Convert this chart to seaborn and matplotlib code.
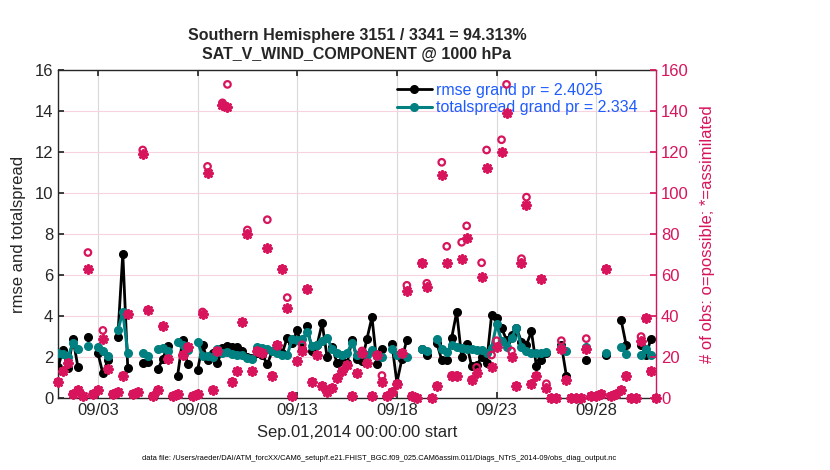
import numpy as np
import pandas as pd
import seaborn as sns
import matplotlib.pyplot as plt

nan = np.nan

# 6-hourly bins starting Sep 01 2014 00:00, x in day-of-month
rmse = [
    1.5, 2.35, 1.45, 2.9, 1.5, nan, 3.0, nan, 2.2, 1.2,
    1.85, nan, 3.0, 7.05, 1.45, nan, nan, 1.7, 1.75, nan,
    1.4, 1.9, 2.55, nan, 1.1, 2.85, 1.65, nan, 1.35, 2.6,
    1.85, 2.2, 1.7, 2.45, 2.55, 2.5, 2.5, 2.3, 2.0, 1.95,
    2.2, 2.1, 1.65, 2.3, 2.4, 2.2, 2.95, 2.7, 3.3, 2.4,
    3.5, 2.3, 2.6, 3.65, 2.0, 2.5, 1.7, 1.8, 1.7, 2.85,
    1.9, 1.8, 2.9, 3.95, 1.65, 2.4, nan, 2.65, 0.75, 1.9,
    2.85, nan, nan, 2.4, 2.1, nan, 2.7, 1.85, 1.85, 2.95,
    4.2, 2.0, 2.65, 1.55, 1.6, 2.0, 1.7, 4.05, 3.9, 3.4,
    2.85, 3.1, 3.4, 2.75, 2.6, 3.25, 1.55, 1.85, 2.2, nan,
    nan, 2.6, 1.1, nan, nan, nan, 1.85, nan, nan, nan,
    2.1, nan, nan, 3.8, 2.6, nan, nan, 2.6, 2.1, 2.9,
    nan,
]
totalspread = [
    2.2, 2.15, 2.0, 2.7, 2.4, nan, 2.55, nan, 2.5, 2.3,
    2.05, nan, 3.3, 4.2, 2.2, nan, nan, 2.2, 2.05, nan,
    2.4, 2.45, 2.3, nan, 2.75, 2.6, 2.35, nan, 2.75, 2.05,
    2.05, 2.0, 2.4, 2.2, 2.25, 2.15, 2.1, 2.1, 1.95, 1.9,
    2.5, 2.45, 2.4, 2.3, 2.2, 2.1, 2.1, 2.9, 2.85, 2.9,
    3.2, 2.55, 2.6, 2.8, 2.95, 2.4, 2.2, 2.1, 2.2, 2.7,
    2.1, 2.2, 2.1, 2.35, 2.05, 2.0, nan, 2.4, 2.1, 2.2,
    2.0, nan, nan, 2.4, 2.3, nan, 2.9, 2.4, 2.25, 2.6,
    2.5, 2.45, 2.4, 2.4, 2.35, 2.35, 2.2, 2.45, 3.6, 2.8,
    2.5, 2.95, 3.4, 2.5, 2.3, 2.2, 2.2, 2.2, 2.25, nan,
    nan, 2.5, 2.3, nan, nan, nan, 2.5, nan, nan, nan,
    2.2, nan, nan, 2.5, 2.15, nan, nan, 2.1, 2.4, 2.1,
    nan,
]
nassimilated = [
    8, 13, 17, 2, 4, 1, 63, 2, 4, 29,
    14, 2, 3, 11, 41, 2, 3, 119, 43, 1,
    4, 35, 19, 1, 2, 21, 25, 1, 2, 41,
    110, 4, 23, 143, 142, 8, 13, 37, 80, 13,
    23, 22, 73, 11, 26, 63, 44, 1, 18, 23,
    53, 8, 21, 6, 3, 5, 10, 13, 16, 1,
    12, 22, 17, 1, 21, 8, 1, 3, 7, 22,
    52, 1, 0, 66, 54, 0, 6, 109, 66, 11,
    11, 68, 78, 9, 12, 59, 112, 15, 25, 120,
    139, 20, 6, 66, 94, 7, 11, 58, 5, 0,
    0, 24, 9, 0, 0, 0, 24, 1, 1, 2,
    63, 1, 2, 4, 11, 0, 0, 28, 39, 13,
    0,
]
npossible = [
    8, 13, 17, 2, 4, 1, 71, 2, 4, 33,
    14, 2, 3, 11, 41, 2, 3, 121, 43, 1,
    4, 35, 19, 1, 2, 21, 25, 1, 2, 42,
    113, 4, 23, 144, 153, 8, 13, 37, 82, 13,
    23, 22, 87, 11, 26, 63, 49, 1, 18, 26,
    53, 8, 21, 6, 3, 5, 10, 13, 16, 1,
    12, 23, 17, 1, 21, 11, 1, 3, 7, 22,
    55, 1, 0, 66, 56, 0, 6, 115, 74, 11,
    11, 76, 84, 9, 15, 66, 121, 21, 28, 126,
    153, 23, 6, 68, 98, 7, 11, 58, 7, 0,
    0, 28, 9, 0, 0, 0, 29, 1, 1, 2,
    63, 1, 2, 4, 11, 0, 0, 30, 39, 13,
    0,
]
tick_days = [3, 8, 13, 18, 23, 28]
tick_labels = ["09/03", "09/08", "09/13", "09/18", "09/23", "09/28"]

days = 1 + np.arange(len(rmse)) / 4.0
df = pd.DataFrame({"day": days, "rmse": rmse, "spread": totalspread,
                   "nposs": npossible, "nused": nassimilated})

pink = "#d7145c"
teal = "#008080"
blue = "#1f5cff"

sns.set_theme(style="white")
plt.rcParams["font.family"] = ["Liberation Sans", "DejaVu Sans"]

fig = plt.figure(figsize=(8.3, 4.7), dpi=100)
ax = fig.add_axes([0.0699, 0.153, 0.7205, 0.698])

ax.plot(df["day"], df["rmse"], "-o", color="black", lw=2, ms=5.5,
        label="rmse grand pr = 2.4025", zorder=3)
ax.plot(df["day"], df["spread"], "-o", color=teal, lw=2.2, ms=5.5,
        label="totalspread grand pr = 2.334", zorder=4)

ax.set_xlim(1, 31)
ax.set_ylim(0, 16)
ax.set_yticks(range(0, 17, 2))
ax.set_xticks(tick_days)
ax.set_xticklabels(tick_labels)
ax.xaxis.grid(True, color="#d9d9d9", lw=0.8)
ax.yaxis.grid(True, color="#f6d3df", lw=0.8)
ax.set_axisbelow(True)
ax.tick_params(direction="in", length=4, labelsize=12, colors="#262626",
               left=True, bottom=True, top=True)
for s in ["left", "top", "bottom"]:
    ax.spines[s].set_color("#262626")
    ax.spines[s].set_linewidth(1)
ax.spines["right"].set_visible(False)
ax.set_ylabel("rmse and totalspread", fontsize=12, color="#262626", labelpad=6)
ax.set_xlabel("Sep.01,2014 00:00:00 start", fontsize=12, color="#262626", labelpad=5)
ax.set_title("Southern Hemisphere 3151 / 3341 = 94.313%\nSAT_V_WIND_COMPONENT @ 1000 hPa",
             fontsize=11.5, fontweight="bold", pad=8, linespacing=1.3)

leg = ax.legend(loc="upper right", bbox_to_anchor=(0.985, 0.99), frameon=False,
                fontsize=11.5, handlelength=2.2, handletextpad=0.25, labelspacing=0.15,
                borderaxespad=0.2)
for txt in leg.get_texts():
    txt.set_color(blue)

ax2 = ax.twinx()
sns.scatterplot(data=df, x="day", y="nposs", ax=ax2, marker="o", s=22,
                facecolor="none", edgecolor=pink, linewidth=1.6, clip_on=False,
                legend=False)
sns.scatterplot(data=df, x="day", y="nused", ax=ax2, marker=(8, 2, 0), s=34,
                color=pink, edgecolor=pink, linewidth=2.0, clip_on=False,
                legend=False)
ax2.set_ylim(0, 160)
ax2.set_yticks(range(0, 161, 20))
ax2.set_xlim(1, 31)
ax2.set_ylabel("# of obs: o=possible; *=assimilated", fontsize=12, color=pink,
               labelpad=8)
ax2.tick_params(axis="y", direction="in", length=4, labelsize=12, colors=pink, right=True)
ax2.grid(False)
for s in ["left", "top", "bottom"]:
    ax2.spines[s].set_visible(False)
ax2.spines["right"].set_color(pink)
ax2.spines["right"].set_linewidth(1)

fig.text(0.457, 0.022,
         "data file: /Users/raeder/DAI/ATM_forcXX/CAM6_setup/f.e21.FHIST_BGC.f09_025."
         "CAM6assim.011/Diags_NTrS_2014-09/obs_diag_output.nc",
         fontsize=5.4, ha="center", color="black")

fig.savefig("out.png", dpi=100, facecolor="white")
